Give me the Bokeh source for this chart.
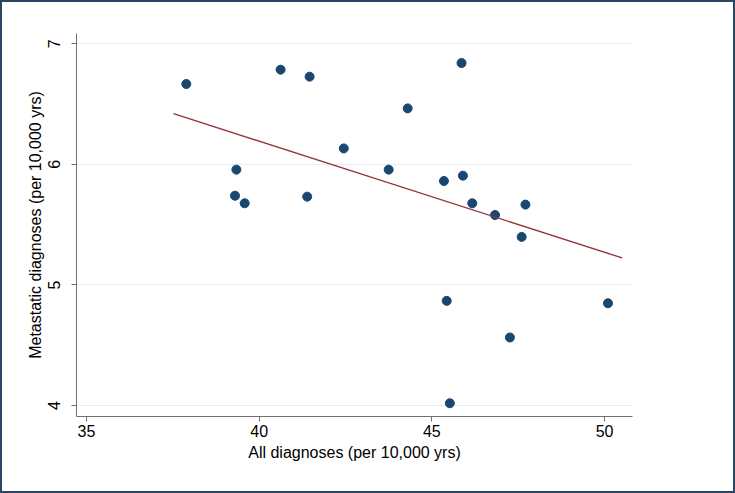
from bokeh.plotting import figure
from bokeh.layouts import column
from bokeh.models import Range1d, FixedTicker
from bokeh.embed import file_html
from bokeh.resources import INLINE

# Data
all_diag = [37.89, 40.62, 41.46, 39.34, 39.30, 39.58, 41.39, 42.45, 44.30, 45.86,
            43.75, 45.35, 45.90, 46.17, 46.83, 47.71, 47.60, 45.43, 50.10, 47.26, 45.52]
meta_diag = [6.666, 6.785, 6.727, 5.956, 5.74, 5.677, 5.732, 6.132, 6.464, 6.84,
             5.956, 5.862, 5.906, 5.677, 5.58, 5.666, 5.398, 4.868, 4.848, 4.564, 4.019]
fit_x = [37.52, 50.51]
fit_y = [6.42, 5.224]
x_ticks = [35, 40, 45, 50]
y_ticks = [4, 5, 6, 7]

FONT = "Liberation Sans"
B = 2
W, H = 735 - 2 * B, 493 - 2 * B

p = figure(width=W, height=H, output_backend="svg", toolbar_location=None,
           x_range=Range1d(34.71, 50.81), y_range=Range1d(3.909, 7.085),
           min_border_left=76 - B, min_border_right=103 - B,
           min_border_top=33 - B, min_border_bottom=77 - B)

p.background_fill_color = "white"
p.border_fill_color = "white"
p.outline_line_color = None

p.xgrid.visible = False
p.ygrid.ticker = FixedTicker(ticks=y_ticks)
p.ygrid.grid_line_color = "#e6eff1"
p.ygrid.grid_line_width = 1

for ax, ticks in ((p.xaxis[0], x_ticks), (p.yaxis[0], y_ticks)):
    ax.ticker = FixedTicker(ticks=ticks)
    ax.axis_line_color = "#707070"
    ax.major_tick_line_color = "#707070"
    ax.major_tick_out = 5
    ax.major_tick_in = 0
    ax.minor_tick_line_color = None
    ax.major_label_text_font = FONT
    ax.major_label_text_font_size = "16px"
    ax.major_label_text_color = "#000000"
    ax.axis_label_text_font = FONT
    ax.axis_label_text_font_size = "16px"
    ax.axis_label_text_font_style = "normal"
    ax.axis_label_text_color = "#000000"

p.xaxis.axis_label = "All diagnoses (per 10,000 yrs)"
p.yaxis.axis_label = "Metastatic diagnoses (per 10,000 yrs)"
p.yaxis.major_label_orientation = "vertical"
p.xaxis.major_label_standoff = 3
p.xaxis.axis_label_standoff = 4
p.yaxis.major_label_standoff = 11
p.yaxis.axis_label_standoff = 2

p.scatter(all_diag, meta_diag, size=9, color="#1a476f")
p.line(fit_x, fit_y, line_color="#90353b", line_width=1.4)

page = column(p, styles={"border": "2px solid #2a4563", "background-color": "white"})

open("out.html", "w").write(file_html(page, INLINE))
